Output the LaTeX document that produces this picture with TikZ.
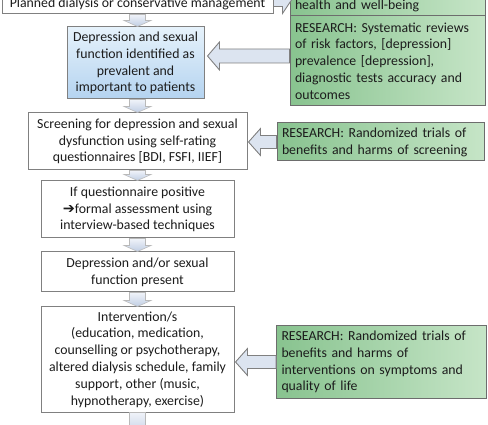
\documentclass[tikz,border=0pt]{standalone}
\usepackage{fontspec}
\setmainfont{Carlito}
\newfontfamily\symfont{DejaVu Sans}
\usetikzlibrary{calc}
\definecolor{boxline}{RGB}{128,128,128}
\definecolor{txt}{RGB}{28,28,28}
\definecolor{greenL}{RGB}{136,195,143}
\definecolor{greenR}{RGB}{198,229,199}
\definecolor{blueT}{RGB}{230,242,251}
\definecolor{blueB}{RGB}{180,211,240}
\definecolor{arrfill}{RGB}{220,228,240}
\definecolor{arrtop}{RGB}{240,243,249}
\definecolor{arrbot}{RGB}{192,206,228}
% block arrow: style, start, tip, half shaft, half head, head length
\newcommand{\blockarrow}[6]{%
  \path (#3) coordinate (ba-t) ($(#3)!#6!(#2)$) coordinate (ba-h);
  \draw[#1] ($(#2)!#4!90:(#3)$) -- ($(ba-h)!#4!90:(ba-t)$) -- ($(ba-h)!#5!90:(ba-t)$)
    -- (ba-t) -- ($(ba-h)!#5!-90:(ba-t)$) -- ($(ba-h)!#4!-90:(ba-t)$)
    -- ($(#2)!#4!-90:(#3)$) -- cycle;
}
\begin{document}
\begin{tikzpicture}[x=1pt,y=-1pt,
  font=\fontsize{13.8}{16.8}\selectfont, text=txt,
  box/.style={draw=boxline, line width=1pt, fill=white, align=center, inner sep=0pt},
  research/.style={draw=boxline!85!black, line width=1pt, left color=greenL, right color=greenR,
    align=left, inner xsep=5pt, inner ysep=0pt},
  sidearrow/.style={fill=arrfill, draw=boxline, line width=0.9pt},
  downarrow/.style={top color=arrtop, bottom color=arrbot, draw=boxline!55, line width=0.6pt}]
\useasboundingbox (0,0) rectangle (488,425);
%\draw[step=10pt,gray,very thin,dashed] (0,0) grid (488,425);

% flow boxes
\node[box, minimum width=271pt, minimum height=20pt] (plan) at (137.5,4) {Planned dialysis or conservative management};
\node[box, top color=blueT, bottom color=blueB, minimum width=137pt, minimum height=72pt] (prev) at (135.5,63)
  {Depression and sexual\\ function identified as\\ prevalent and\\ important to patients};
\node[box, minimum width=219pt, minimum height=57pt] (scr) at (137.5,141.5)
  {Screening for depression and sexual\\ dysfunction using self-rating\\ questionnaires [BDI, FSFI, IIEF]};
\node[box, minimum width=193pt, minimum height=57pt] (quest) at (137.5,209.5)
  {If questionnaire positive\\ {\symfont\bfseries\fontsize{14.5}{16.8}\selectfont ➔}formal assessment using\\ interview-based techniques};
\node[box, minimum width=193pt, minimum height=40pt] (pres) at (137.5,272)
  {Depression and/or sexual\\ function present};
\node[box, minimum width=193pt, minimum height=105pt] (interv) at (137.5,359.5)
  {Intervention/s\\ (education, medication,\\ counselling or psychotherapy,\\ altered dialysis schedule, family\\ support, other (music,\\ hypnotherapy, exercise)};
\coordinate (next) at (137.5,436);

% research boxes
\node[research, text width=185pt, minimum height=20pt] (hw) at (387.5,6) {health and well-being};
\node[research, text width=185pt, minimum height=90pt] (sr) at (387.5,61)
  {RESEARCH: Systematic reviews\\ of risk factors, [depression]\\ prevalence [depression],\\ diagnostic tests accuracy and\\ outcomes};
\node[research, text width=197pt, minimum height=38pt] (rts) at (380.5,142)
  {RESEARCH: Randomized trials of\\ benefits and harms of screening};
\node[research, text width=200pt, minimum height=73pt] (rti) at (381.5,362)
  {RESEARCH: Randomized trials of\\ benefits and harms of\\ interventions on symptoms and\\ quality of life};

% side arrows
\coordinate (a0s) at ($(plan.east)+(0,-4)$);
\coordinate (a0t) at ($(hw.west)+(2,-6)$);
\blockarrow{sidearrow}{a0s}{a0t}{6.5pt}{13.5pt}{9pt}
\coordinate (a1s) at ($(sr.west)+(0,-5)$);
\coordinate (a1t) at ($(prev.east |- a1s)+(3,0)$);
\blockarrow{sidearrow}{a1s}{a1t}{7pt}{14pt}{12pt}
\coordinate (a2t) at ($(scr.east |- rts.west)+(1,0)$);
\blockarrow{sidearrow}{rts.west}{a2t}{6.5pt}{13.5pt}{12pt}
\coordinate (a3t) at ($(interv.east |- rti.west)+(1,0)$);
\blockarrow{sidearrow}{rti.west}{a3t}{6.5pt}{13.5pt}{12pt}

% down arrows
\coordinate (d1t) at (plan.south |- prev.north);
\blockarrow{downarrow}{plan.south}{d1t}{8pt}{13.5pt}{6pt}
\coordinate (d2s) at (scr.north |- prev.south);
\blockarrow{downarrow}{d2s}{scr.north}{8pt}{13.5pt}{6pt}
\foreach \a/\b in {scr/quest, quest/pres, pres/interv, interv/next}
  \blockarrow{downarrow}{\a.south}{\b.north}{8pt}{13.5pt}{6pt};
\end{tikzpicture}
\end{document}
